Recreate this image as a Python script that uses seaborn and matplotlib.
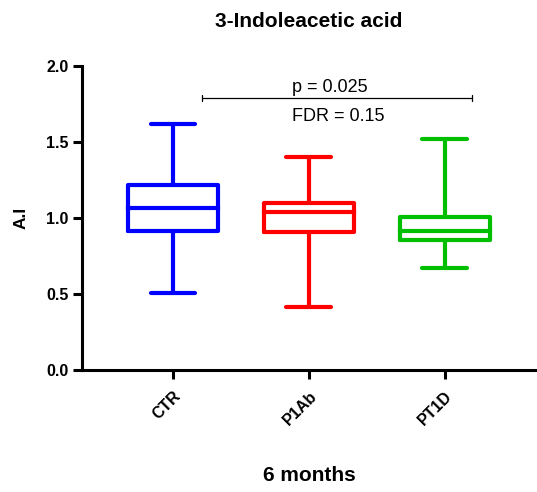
import matplotlib
matplotlib.use("Agg")
import matplotlib.pyplot as plt
import seaborn as sns
import pandas as pd
import numpy as np

# ---- data (five-number summaries) ----
groups = ["CTR", "P1Ab", "PT1D"]
mins    = [0.505, 0.412, 0.673]
q1s     = [0.914, 0.910, 0.855]
medians = [1.068, 1.042, 0.914]
q3s     = [1.217, 1.096, 1.009]
maxs    = [1.616, 1.403, 1.517]
colors  = ["#0000FF", "#FF0000", "#00BF00"]

title = "3-Indoleacetic acid"
ylabel = "A.I"
xlabel = "6 months"
yticks = [0.0, 0.5, 1.0, 1.5, 2.0]
ytick_labels = ["0.0", "0.5", "1.0", "1.5", "2.0"]
bracket_groups = ("CTR", "PT1D")
bracket_y = 1.787
p_text = "p = 0.025"
fdr_text = "FDR = 0.15"

rows = []
for g, a, b, c, d, e in zip(groups, mins, q1s, medians, q3s, maxs):
    for v in (a, b, c, d, e):
        rows.append({"group": g, "value": v})
df = pd.DataFrame(rows)

sns.set_style("ticks")
plt.rcParams["font.family"] = ["Liberation Sans", "DejaVu Sans"]
plt.rcParams["text.color"] = "black"
plt.rcParams["axes.labelcolor"] = "black"
plt.rcParams["xtick.color"] = "black"
plt.rcParams["ytick.color"] = "black"

fig = plt.figure(figsize=(5.37, 4.92), dpi=100)
ax = fig.add_axes([0.1527, 0.248, 0.845, 0.618])

sns.boxplot(data=df, x="group", y="value", hue="group", order=groups,
            palette=dict(zip(groups, colors)), fill=False, whis=(0, 100),
            width=0.66, linewidth=3.0, legend=False, ax=ax,
            medianprops={"solid_capstyle": "projecting"})

ax.set_ylim(0, 2.0)
ax.set_xlim(-0.67, 2.67)
ax.set_yticks(yticks)
ax.set_yticklabels(ytick_labels, fontsize=11.5, fontweight="bold")
ax.set_xticks(range(len(groups)))
ax.set_xticklabels(groups, fontsize=11.5, fontweight="bold", rotation=45,
                   ha="right", rotation_mode="anchor")
ax.tick_params(axis="both", width=2.2, length=6.5, color="black", pad=3)
ax.tick_params(axis="x", pad=7)

for s in ("top", "right"):
    ax.spines[s].set_visible(False)
for s in ("left", "bottom"):
    ax.spines[s].set_linewidth(2.2)
    ax.spines[s].set_color("black")

ax.set_title(title, fontsize=15, fontweight="bold", pad=28)
ax.set_ylabel(ylabel, fontsize=12.5, fontweight="bold", labelpad=13)
ax.set_xlabel(xlabel, fontsize=15, fontweight="bold", labelpad=27)

# significance bracket
x0 = groups.index(bracket_groups[0]) + 0.21
x1 = groups.index(bracket_groups[1]) + 0.198
ax.plot([x0, x1], [bracket_y, bracket_y], color="black", lw=0.9)
for xx in (x0, x1):
    ax.plot([xx, xx], [bracket_y - 0.02, bracket_y + 0.02], color="black", lw=0.9)
tx = 0.877
ax.text(tx, bracket_y + 0.04, p_text, fontsize=13, ha="left", va="baseline")
ax.text(tx, bracket_y - 0.147, fdr_text, fontsize=13, ha="left", va="baseline")

fig.savefig("out.png", dpi=100)
